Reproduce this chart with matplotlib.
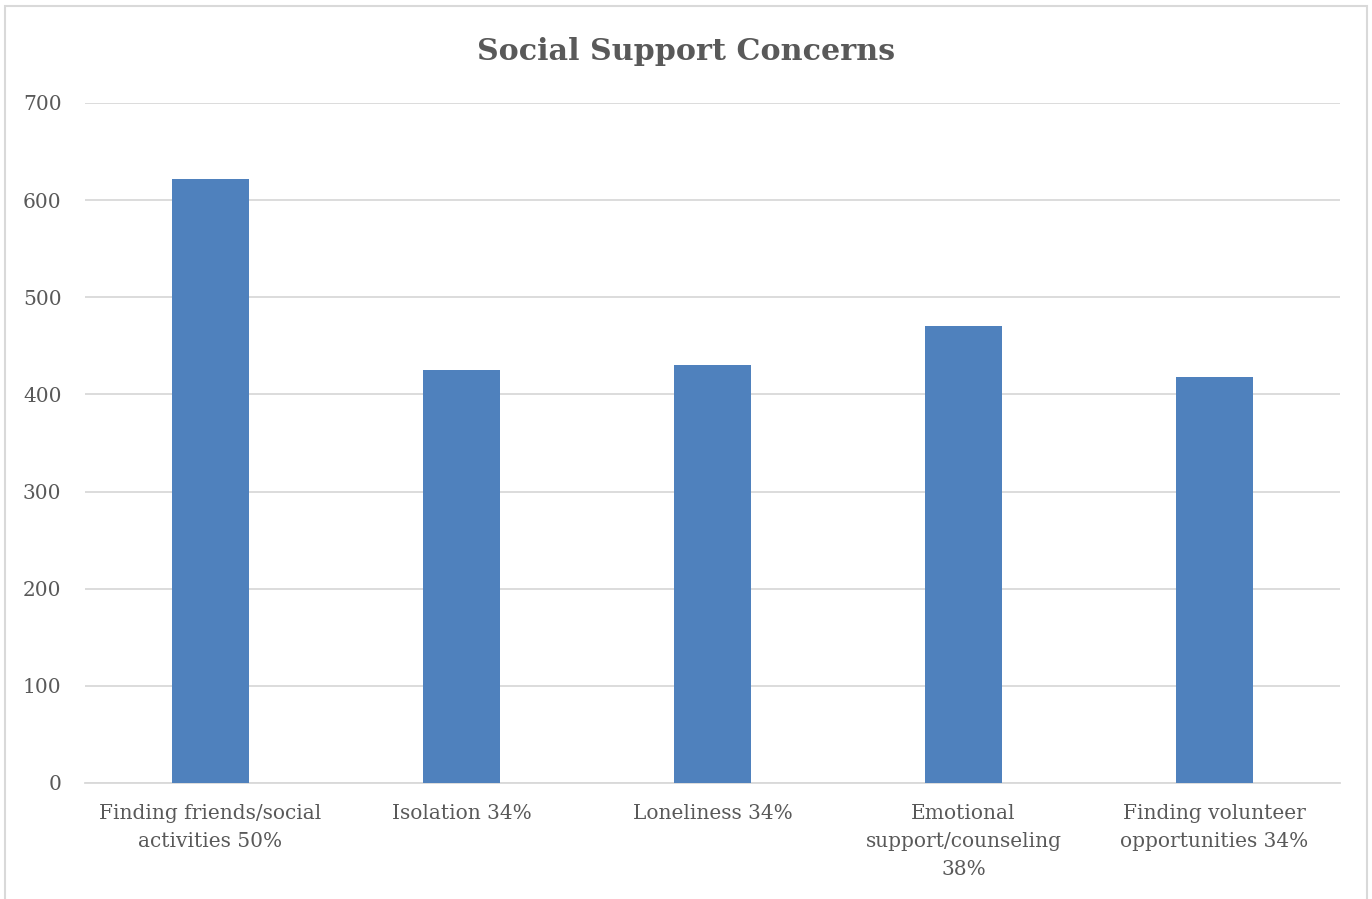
import matplotlib
matplotlib.use("Agg")
import matplotlib.pyplot as plt
from matplotlib.patches import Rectangle

# data
categories = [
    "Finding friends/social\nactivities 50%",
    "Isolation 34%",
    "Loneliness 34%",
    "Emotional\nsupport/counseling\n38%",
    "Finding volunteer\nopportunities 34%",
]
counts = [622, 425, 430, 470, 418]
y_ticks = [0, 100, 200, 300, 400, 500, 600, 700]

text_color = "#595959"
grid_color = "#d9d9d9"
bar_color = "#4f81bd"

plt.rcParams["font.family"] = ["DejaVu Serif"]

fig = plt.figure(figsize=(13.72, 8.99), dpi=100)
ax = fig.add_axes([85 / 1372, 1 - 783 / 899, 1255 / 1372, 680 / 899])

x = range(len(categories))
ax.bar(x, counts, width=0.31, color=bar_color, zorder=3)

ax.set_xlim(-0.5, len(categories) - 0.5)
ax.set_ylim(0, 700)
ax.set_yticks(y_ticks)
ax.set_xticks(list(x))
ax.set_xticklabels(categories, fontsize=14.5, color=text_color, linespacing=1.62)
ax.tick_params(axis="y", length=0, pad=17, labelsize=14.5, labelcolor=text_color)
ax.tick_params(axis="x", length=0, pad=15)

ax.grid(axis="y", color=grid_color, linewidth=1.3, zorder=0)
for s in ["top", "right", "left"]:
    ax.spines[s].set_visible(False)
ax.spines["bottom"].set_color(grid_color)
ax.spines["bottom"].set_linewidth(1.3)

fig.text(0.5, 1 - 51 / 899, "Social Support Concerns", ha="center", va="center",
         fontsize=21.7, fontweight="bold", color=text_color)

# chart area border (bottom edge cut off in the reference)
border = Rectangle((5 / 1372, -0.05), 1362 / 1372, 1.05 - 6 / 899, transform=fig.transFigure,
                   fill=False, edgecolor=grid_color, linewidth=1.5)
fig.patches.append(border)

fig.savefig("out.png", dpi=100)
